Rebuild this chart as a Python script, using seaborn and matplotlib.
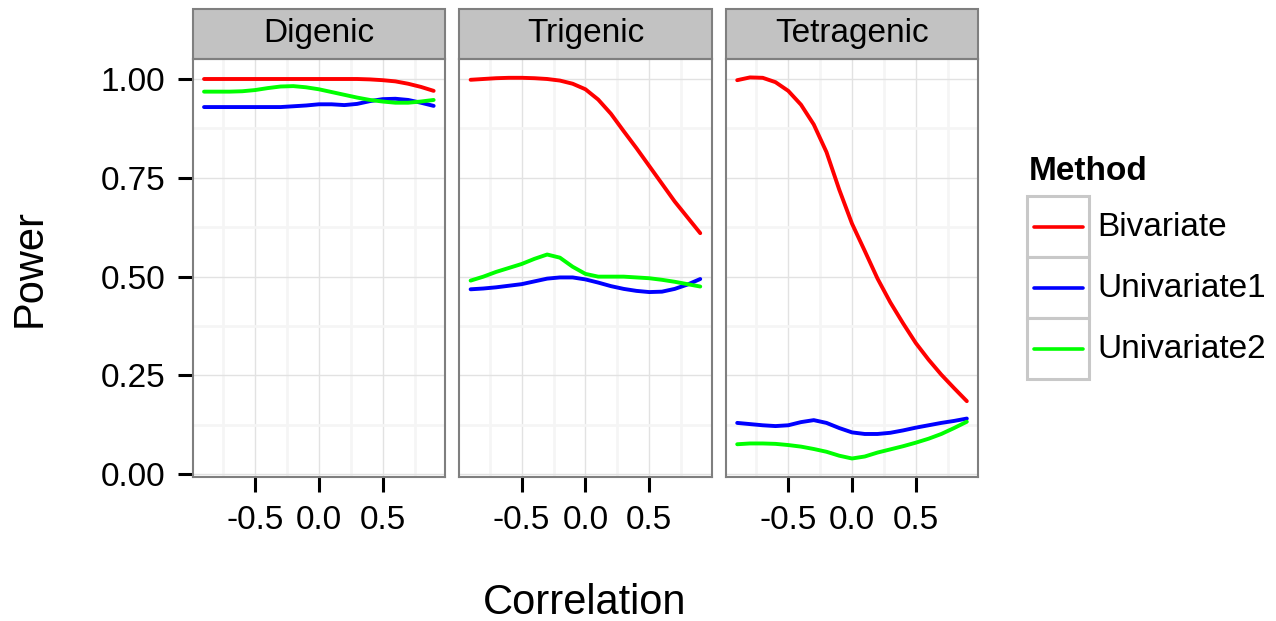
import numpy as np
import pandas as pd
import matplotlib.pyplot as plt
import seaborn as sns
from matplotlib.patches import Rectangle
from matplotlib.lines import Line2D

correlation = [-0.9, -0.8, -0.7, -0.6, -0.5, -0.4, -0.3, -0.2, -0.1, 0.0,
               0.1, 0.2, 0.3, 0.4, 0.5, 0.6, 0.7, 0.8, 0.9]
types = ["Digenic", "Trigenic", "Tetragenic"]
methods = ["Bivariate", "Univariate1", "Univariate2"]
colors = ["#ff0000", "#0000ff", "#00ff00"]

digenic_bivariate = [1.0, 1.0, 1.0, 1.0, 1.0, 1.0, 1.0, 1.0, 1.0, 1.0,
                     1.0, 1.0, 1.0, 0.999, 0.997, 0.994, 0.988, 0.98, 0.97]
digenic_univariate1 = [0.929, 0.929, 0.929, 0.929, 0.929, 0.929, 0.929, 0.931, 0.933, 0.936,
                       0.936, 0.934, 0.937, 0.944, 0.949, 0.950, 0.947, 0.940, 0.932]
digenic_univariate2 = [0.968, 0.968, 0.968, 0.969, 0.972, 0.977, 0.981, 0.982, 0.979, 0.974,
                       0.967, 0.960, 0.953, 0.947, 0.943, 0.940, 0.940, 0.943, 0.947]

trigenic_bivariate = [0.998, 1.0, 1.002, 1.003, 1.003, 1.002, 1.0, 0.996, 0.988, 0.974,
                      0.948, 0.912, 0.868, 0.825, 0.78, 0.735, 0.69, 0.65, 0.61]
trigenic_univariate1 = [0.468, 0.470, 0.473, 0.477, 0.481, 0.488, 0.495, 0.498, 0.498, 0.493,
                        0.485, 0.476, 0.469, 0.464, 0.461, 0.462, 0.469, 0.480, 0.494]
trigenic_univariate2 = [0.490, 0.500, 0.512, 0.522, 0.532, 0.545, 0.556, 0.548, 0.525, 0.507,
                        0.500, 0.500, 0.500, 0.498, 0.496, 0.492, 0.487, 0.481, 0.475]

tetragenic_bivariate = [0.997, 1.004, 1.003, 0.992, 0.970, 0.935, 0.885, 0.815, 0.72, 0.634,
                        0.565, 0.495, 0.435, 0.382, 0.332, 0.29, 0.252, 0.218, 0.185]
tetragenic_univariate1 = [0.130, 0.127, 0.124, 0.122, 0.124, 0.132, 0.137, 0.130, 0.117, 0.106,
                          0.102, 0.102, 0.105, 0.111, 0.118, 0.124, 0.130, 0.135, 0.141]
tetragenic_univariate2 = [0.076, 0.078, 0.078, 0.077, 0.074, 0.070, 0.064, 0.057, 0.047, 0.040,
                          0.045, 0.055, 0.063, 0.071, 0.080, 0.090, 0.102, 0.117, 0.133]

series = {
    ("Digenic", "Bivariate"): digenic_bivariate,
    ("Digenic", "Univariate1"): digenic_univariate1,
    ("Digenic", "Univariate2"): digenic_univariate2,
    ("Trigenic", "Bivariate"): trigenic_bivariate,
    ("Trigenic", "Univariate1"): trigenic_univariate1,
    ("Trigenic", "Univariate2"): trigenic_univariate2,
    ("Tetragenic", "Bivariate"): tetragenic_bivariate,
    ("Tetragenic", "Univariate1"): tetragenic_univariate1,
    ("Tetragenic", "Univariate2"): tetragenic_univariate2,
}

rows = []
for (t, m), vals in series.items():
    for x, y in zip(correlation, vals):
        rows.append({"Type": t, "Method": m, "Correlation": x, "Power": y})
df = pd.DataFrame(rows)

sns.set_theme(style="white")
plt.rcParams["font.family"] = ["Liberation Sans", "DejaVu Sans"]
for key in ["text.color", "axes.labelcolor", "xtick.color", "ytick.color"]:
    plt.rcParams[key] = "black"

g = sns.relplot(data=df, x="Correlation", y="Power", hue="Method", col="Type",
                kind="line", palette=colors, hue_order=methods, col_order=types,
                legend=False, linewidth=2.8, height=4, aspect=0.6)
fig = g.figure
fig.set_size_inches(12.76, 6.21)
fig.subplots_adjust(left=0.1509, right=0.7667, top=0.905, bottom=0.2314, wspace=0.0554)

W, H = 1276, 621
FS = 24
for i, (ax, name) in enumerate(zip(g.axes.flat, types)):
    ax.set_title("")
    ax.set_xlabel("")
    ax.set_ylabel("")
    ax.set_xlim(-0.99, 0.99)
    ax.set_ylim(-0.0076, 1.0506)
    ax.set_xticks([-0.5, 0.0, 0.5], ["-0.5", "0.0", "0.5"])
    ax.set_xticks([-0.75, -0.25, 0.25, 0.75], minor=True)
    ax.set_yticks([0, 0.25, 0.5, 0.75, 1.0], ["0.00", "0.25", "0.50", "0.75", "1.00"])
    ax.set_yticks([0.125, 0.375, 0.625, 0.875], minor=True)
    ax.grid(which="minor", color="#f5f5f5", lw=2.0)
    ax.grid(which="major", color="#e2e2e2", lw=1.0)
    ax.set_axisbelow(True)
    ax.tick_params(which="major", length=10.8, width=2.2, color="black",
                   labelsize=FS, labelcolor="black", pad=9, bottom=True, left=(i == 0))
    ax.tick_params(which="minor", length=0)
    for s in ax.spines.values():
        s.set_visible(True)
        s.set_color("#7f7f7f")
        s.set_linewidth(1.5)
    strip_h = 50.3 / 418.3
    ax.add_patch(Rectangle((0, 1.0), 1, strip_h, transform=ax.transAxes, clip_on=False,
                           facecolor="#c2c2c2", edgecolor="#7f7f7f", lw=1.5))
    ax.text(0.5, 1.0 + strip_h / 2, name, transform=ax.transAxes, ha="center", va="center",
            fontsize=FS, color="black")

fig.text(30 / W, 1 - 268 / H, "Power", rotation=90, ha="center", va="center", fontsize=30)
fig.text(585 / W, 1 - 603 / H, "Correlation", ha="center", va="center", fontsize=30)

# legend drawn by hand, ggplot style
fig.text(1029 / W, 1 - 172 / H, "Method", ha="left", va="center", fontsize=FS, weight="bold")
row_top = 196
row_h = 61
for k, (m, c) in enumerate(zip(methods, colors)):
    top = row_top + k * row_h
    yc = top + row_h / 2
    fig.add_artist(Rectangle((1027 / W, 1 - (top + row_h) / H), 62 / W, row_h / H,
                             transform=fig.transFigure, facecolor="white",
                             edgecolor="#c8c8c8", lw=2.2))
    fig.add_artist(Line2D([1034 / W, 1083 / W], [1 - yc / H, 1 - yc / H],
                          transform=fig.transFigure, color=c, lw=2.6))
    fig.text(1097 / W, 1 - (yc + 1) / H, m, ha="left", va="center", fontsize=FS)

fig.savefig("out.png", dpi=100)
